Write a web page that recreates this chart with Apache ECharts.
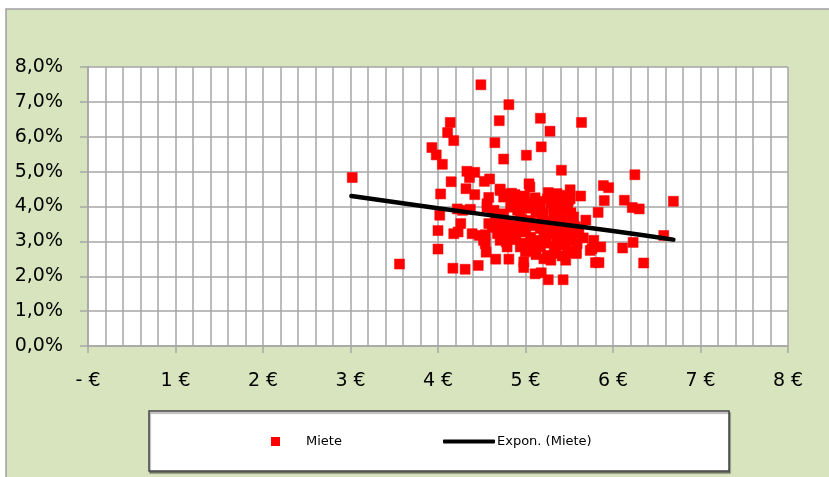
<!DOCTYPE html>
<html>
<head>
<meta charset="utf-8">
<script src="https://cdn.jsdelivr.net/npm/echarts@6/dist/echarts.min.js"></script>
<style>
  html, body { margin: 0; padding: 0; background: #fff; }
  #chart { width: 829px; height: 477px; }
</style>
</head>
<body>
<div id="chart"></div>
<script>
// Miete: price per m2 (EUR) vs. yield (%)
const mieteX = [
  3.02, 3.56, 4.49, 4.81, 4.70, 4.14, 4.11, 4.18, 3.93, 3.98, 4.05, 4.65, 4.75, 4.33, 4.42, 4.36,
  4.15, 4.53, 4.59, 4.03, 4.32, 4.42, 4.58, 4.71, 4.82, 4.88, 4.56, 4.22, 4.28, 4.37, 4.02, 4.26,
  4.23, 4.00, 4.58, 4.39, 4.47, 4.54, 4.54, 4.68, 4.75, 4.71, 4.00, 4.55, 4.66, 4.81, 4.17, 4.31,
  4.46, 5.17, 5.28, 5.64, 5.18, 5.01, 5.41, 5.04, 5.05, 5.89, 5.95, 5.90, 6.13, 5.63, 5.51, 5.51,
  5.40, 5.29, 5.83, 5.69, 5.48, 5.32, 6.11, 5.86, 5.74, 5.80, 5.84, 5.58, 5.46, 5.25, 5.11, 5.18,
  5.26, 5.43, 4.98, 4.98, 4.75, 4.87, 4.98, 5.04, 4.79, 4.94, 4.79, 6.25, 6.69, 6.22, 6.30, 6.58,
  6.23, 5.78, 5.76, 6.35, 5.61, 5.55, 5.58, 4.71, 5.00, 5.36, 5.49, 4.56, 4.64, 4.75, 4.83, 4.91,
  5.17, 5.29, 5.36, 5.55, 4.18, 4.52, 4.75, 4.83, 4.91, 4.98, 5.06, 5.13, 5.21, 5.29, 5.36, 5.44,
  5.51, 5.59, 5.09, 5.17, 5.34, 5.48, 5.21, 5.29, 5.06, 5.23, 5.40, 4.94, 5.17, 4.77, 4.66,
  4.86, 4.90, 4.95, 5.02, 5.08, 5.12, 5.15, 5.20, 5.25, 5.32, 5.38, 5.42, 5.46, 5.52, 4.84, 4.93,
  5.00, 5.10, 5.22, 5.30, 5.38, 5.45, 4.88, 4.97, 5.05, 5.14, 5.24, 5.33, 5.41, 4.72, 4.80, 4.62,
  5.57, 5.66, 4.74, 4.85, 4.96, 5.07, 5.18, 5.28, 5.39, 5.50, 4.78, 4.89, 5.00, 5.12, 5.23, 5.34,
  5.45, 4.84, 4.99, 5.11, 5.26, 5.37, 5.48, 4.62, 4.70, 5.42, 5.53, 5.03, 5.16
];
const mieteY = [
  4.83, 2.35, 7.49, 6.92, 6.46, 6.41, 6.12, 5.89, 5.69, 5.48, 5.21, 5.83, 5.36, 5.01, 4.98, 4.83,
  4.71, 4.72, 4.79, 4.36, 4.51, 4.34, 4.26, 4.50, 4.35, 4.34, 4.08, 3.93, 3.89, 3.92, 3.75, 3.51,
  3.27, 3.31, 3.51, 3.22, 3.17, 3.19, 2.93, 3.22, 3.22, 3.03, 2.78, 2.69, 2.49, 2.49, 2.23, 2.20,
  2.31, 6.53, 6.16, 6.41, 5.71, 5.47, 5.04, 4.65, 4.56, 4.60, 4.54, 4.17, 4.18, 4.30, 4.48, 4.22,
  4.32, 4.29, 3.83, 3.61, 3.89, 3.98, 2.81, 2.84, 2.74, 2.39, 2.39, 2.69, 2.46, 2.60, 2.07, 2.10,
  1.90, 1.90, 2.41, 2.25, 4.27, 4.32, 4.27, 4.13, 3.23, 2.84, 2.84, 4.91, 4.15, 3.97, 3.93, 3.17,
  2.97, 3.03, 2.79, 2.38, 3.22, 2.69, 2.65, 4.46, 4.08, 4.37, 4.17, 3.98, 3.89, 3.79, 3.98, 3.89,
  3.98, 4.08, 3.89, 3.70, 3.22, 3.03, 3.12, 3.17, 3.32, 3.27, 3.12, 3.03, 3.17, 3.22, 3.12, 3.22,
  3.03, 2.93, 2.74, 2.84, 2.65, 2.74, 2.50, 2.46, 3.60, 3.54, 3.46, 3.66, 3.37, 3.54, 3.66,
  4.20, 4.05, 4.12, 3.95, 4.00, 3.85, 4.15, 3.80, 4.22, 3.75, 4.10, 3.92, 3.60, 3.82, 3.45, 3.40,
  3.35, 3.50, 3.28, 3.40, 3.35, 3.05, 3.05, 2.95, 2.92, 2.88, 2.98, 2.85, 2.90, 3.40, 3.48, 3.40,
  3.42, 3.10, 3.58, 3.30, 3.62, 3.45, 3.72, 3.56, 3.66, 3.38, 2.98, 3.15, 2.70, 2.62, 2.95, 2.80,
  2.90, 4.38, 4.30, 4.25, 4.40, 4.00, 4.05, 3.85, 3.70, 2.58, 3.25, 3.48, 3.92
];

// exponential trendline
const trendX = [3.01, 4.0, 5.0, 6.0, 6.69];
const trendY = [4.30, 3.95, 3.62, 3.30, 3.05];

const xTicks = ['- €', '1 €', '2 €', '3 €', '4 €', '5 €', '6 €', '7 €', '8 €'];

const font = 'DejaVu Sans';
const gridGray = '#a6a6a6';

const chart = echarts.init(document.getElementById('chart'));

chart.setOption({
  backgroundColor: '#ffffff',
  animation: false,
  textStyle: { fontFamily: font },
  graphic: [
    {
      type: 'rect',
      z: -10,
      shape: { x: 6, y: 9, width: 840, height: 490 },
      style: { fill: '#d7e4bd', stroke: '#a0a0a0', lineWidth: 1.5 }
    },
    {
      type: 'rect',
      z: 1,
      shape: { x: 149, y: 411, width: 580, height: 60 },
      style: {
        fill: '#ffffff', stroke: '#444', lineWidth: 1.5,
        shadowColor: 'rgba(0,0,0,0.35)', shadowOffsetX: 1, shadowOffsetY: 2, shadowBlur: 1
      }
    }
  ],
  grid: {
    left: 88, right: 41, top: 67, bottom: 131,
    show: true, backgroundColor: '#ffffff', borderWidth: 0
  },
  legend: [
    {
      data: ['Miete'],
      left: 271, top: 435, padding: 0,
      icon: 'rect', itemWidth: 9, itemHeight: 9,
      itemStyle: { color: '#ff0000', borderWidth: 0 },
      textStyle: { fontFamily: font, fontSize: 13, color: '#000', padding: [0, 0, 0, 21] }
    },
    {
      data: ['Expon. (Miete)'],
      left: 443, top: 435, padding: 0,
      icon: 'roundRect', itemWidth: 52, itemHeight: 4,
      itemStyle: { color: '#000' },
      textStyle: { fontFamily: font, fontSize: 13, color: '#000', padding: [0, 0, 0, -3] }
    }
  ],
  xAxis: {
    type: 'value',
    min: 0, max: 8, interval: 1,
    axisLine: { show: true, lineStyle: { color: gridGray, width: 1.5 } },
    axisTick: { show: true, length: 7, lineStyle: { color: gridGray, width: 1.5 } },
    minorTick: { show: false, splitNumber: 5 },
    splitLine: { show: true, lineStyle: { color: gridGray, width: 1.5 } },
    minorSplitLine: { show: true, lineStyle: { color: gridGray, width: 1.5 } },
    axisLabel: {
      margin: 26, fontSize: 19, color: '#000', fontFamily: font,
      formatter: v => xTicks[Math.round(v)]
    }
  },
  yAxis: {
    type: 'value',
    min: 0, max: 0.08, interval: 0.01,
    axisLine: { show: true, lineStyle: { color: gridGray, width: 1.5 } },
    axisTick: { show: true, length: 8, lineStyle: { color: gridGray, width: 1.5 } },
    splitLine: { show: true, lineStyle: { color: gridGray, width: 1.5 } },
    axisLabel: {
      margin: 25, fontSize: 19, color: '#000', fontFamily: font,
      formatter: v => (v * 100).toFixed(1).replace('.', ',') + '%'
    }
  },
  series: [
    {
      name: 'Miete',
      type: 'scatter',
      symbol: 'rect',
      symbolSize: 10,
      itemStyle: { color: '#ff0000', opacity: 1, borderColor: '#ff0000', borderWidth: 0.5 },
      emphasis: { disabled: true },
      data: mieteX.map((x, i) => [x, mieteY[i] / 100]),
      z: 3
    },
    {
      name: 'Expon. (Miete)',
      type: 'line',
      smooth: true,
      showSymbol: false,
      symbol: 'none',
      lineStyle: { color: '#000', width: 4.5, cap: 'round' },
      itemStyle: { color: '#000' },
      data: trendX.map((x, i) => [x, trendY[i] / 100]),
      z: 5
    }
  ]
});
</script>
</body>
</html>
